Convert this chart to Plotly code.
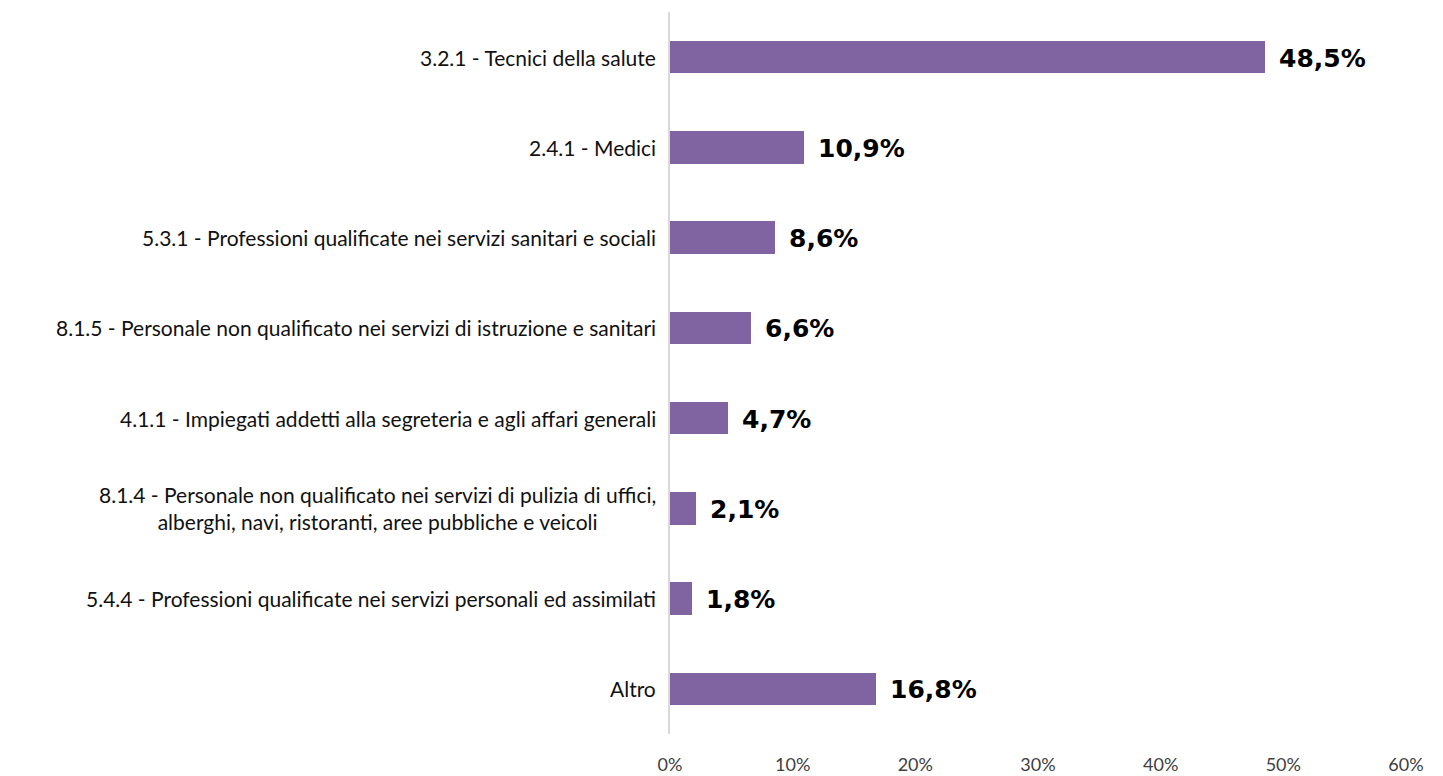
import plotly.graph_objects as go

categories = [
    "3.2.1 - Tecnici della salute",
    "2.4.1 - Medici",
    "5.3.1 - Professioni qualificate nei servizi sanitari e sociali",
    "8.1.5 - Personale non qualificato nei servizi di istruzione e sanitari",
    "4.1.1 - Impiegati addetti alla segreteria e agli affari generali",
    "8.1.4 - Personale non qualificato nei servizi di pulizia di uffici,<br>alberghi, navi, ristoranti, aree pubbliche e veicoli",
    "5.4.4 - Professioni qualificate nei servizi personali ed assimilati",
    "Altro",
]
values = [48.5, 10.9, 8.6, 6.6, 4.7, 2.1, 1.8, 16.8]
x_ticks = [0, 10, 20, 30, 40, 50, 60]
x_tick_text = ["0%", "10%", "20%", "30%", "40%", "50%", "60%"]

labels = [f"{v:.1f}".replace(".", ",") + "%" for v in values]
ids = list(range(len(categories)))

fig = go.Figure()
fig.add_trace(go.Bar(
    x=values, y=ids, orientation="h",
    marker=dict(color="#8064A2", line=dict(width=0)),
    width=0.36,
    hoverinfo="skip",
))

for i, c in zip(ids, categories):
    fig.add_annotation(
        x=0, xref="paper", y=i, yref="y", text=c, showarrow=False,
        xanchor="right", yanchor="middle", align="center", xshift=-12,
        font=dict(family="Lato", size=21, color="#111111"),
    )

for i, v, t in zip(ids, values, labels):
    fig.add_annotation(
        x=v, xref="x", y=i, yref="y", text="<b>" + t + "</b>", showarrow=False,
        xanchor="left", yanchor="middle", xshift=12, yshift=-1,
        font=dict(family="DejaVu Sans", size=25, color="#000000"),
    )

fig.update_layout(
    width=1435, height=768,
    margin=dict(l=662, r=37, t=4, b=42),
    paper_bgcolor="white", plot_bgcolor="white",
    showlegend=False,
    bargap=0,
)
fig.update_xaxes(
    range=[0, 60], tickvals=x_ticks, ticktext=x_tick_text,
    showgrid=False, zeroline=False, showline=False, automargin=False,
    tickfont=dict(family="Lato", size=18, color="#404040"),
    ticklabelstandoff=18,
)
fig.update_yaxes(
    range=[len(categories) - 0.5, -0.5], showticklabels=False,
    showgrid=False, zeroline=False, automargin=False,
    showline=True, linecolor="#D9D9D9", linewidth=1.5,
)

fig.write_html("out.html")
